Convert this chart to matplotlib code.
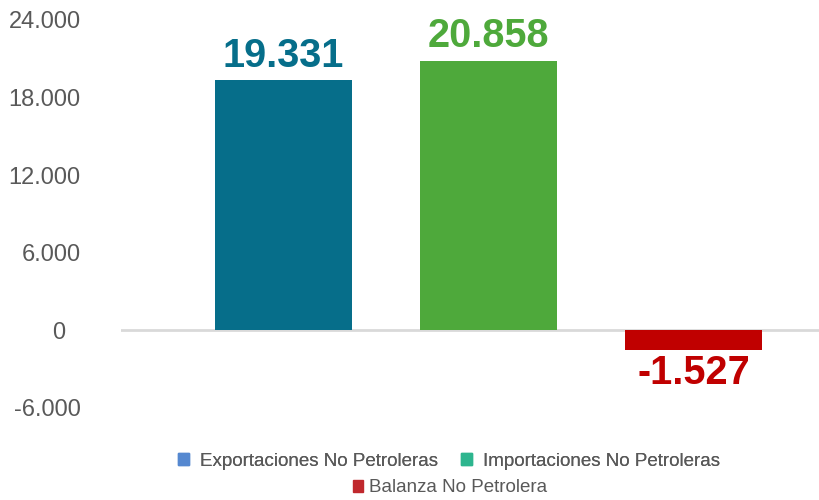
import matplotlib.pyplot as plt
import matplotlib.transforms as mtransforms
from matplotlib.patches import Patch

plt.rcParams['font.family'] = ['Liberation Sans', 'DejaVu Sans']

# Datos
categorias = ['Exportaciones No Petroleras', 'Importaciones No Petroleras', 'Balanza No Petrolera']
valores = [19331, 20858, -1527]
etiquetas = ['19.331', '20.858', '-1.527']
colores_barra = ['#066E8A', '#4EA93B', '#C00000']
colores_leyenda = ['#5588D0', '#2DB58E', '#C0282D']
ticks_y = [-6000, 0, 6000, 12000, 18000, 24000]
ticks_txt = ['-6.000', '0', '6.000', '12.000', '18.000', '24.000']

fig = plt.figure(figsize=(8.19, 5), dpi=100)
ax = fig.add_axes([121/819, 92/500, 698/819, 388/500])

x = list(range(len(valores)))
ax.bar(x, valores, width=0.668, color=colores_barra, zorder=2)

ax.axhline(0, color='#D9D9D9', linewidth=2, zorder=1)

# Etiquetas de datos
for xi, v, t, c in zip(x, valores, etiquetas, colores_barra):
    if v >= 0:
        ax.annotate(t, (xi, v), xytext=(0, 4), textcoords='offset points',
                    ha='center', va='bottom', fontsize=28.5, fontweight='bold', color=c)
    else:
        ax.annotate(t, (xi, v), xytext=(0, -3), textcoords='offset points',
                    ha='center', va='top', fontsize=28.5, fontweight='bold', color=c)

ax.set_xlim(-0.793, 2.612)
ax.set_ylim(-6000, 24000)
ax.set_yticks(ticks_y)
ax.set_yticklabels(ticks_txt, fontsize=17, color='#595959')
ax.tick_params(axis='y', length=0, pad=29)
ax.set_xticks([])
for s in ax.spines.values():
    s.set_visible(False)

# el "0" va un poco más a la izquierda
for lab in ax.get_yticklabels():
    if lab.get_text() == '0':
        off = mtransforms.ScaledTranslation(-15/100, 0, fig.dpi_scale_trans)
        lab.set_transform(lab.get_transform() + off)

# Leyenda en dos filas
h = [Patch(color=c) for c in colores_leyenda]
leg1 = fig.legend(h[:2], categorias[:2], loc='center', bbox_to_anchor=(449/819, 1 - 461/500),
                  ncol=2, frameon=False, fontsize=13.5, labelcolor='#595959',
                  handlelength=0.55, handleheight=0.55, handletextpad=0.6, columnspacing=1.25)
fig.legend(h[2:], categorias[2:], loc='center', bbox_to_anchor=(450/819, 1 - 488/500),
           frameon=False, fontsize=13.5, labelcolor='#595959',
           handlelength=0.55, handleheight=0.55, handletextpad=0.3)
fig.add_artist(leg1)

fig.savefig('out.png', dpi=100, facecolor='white')
